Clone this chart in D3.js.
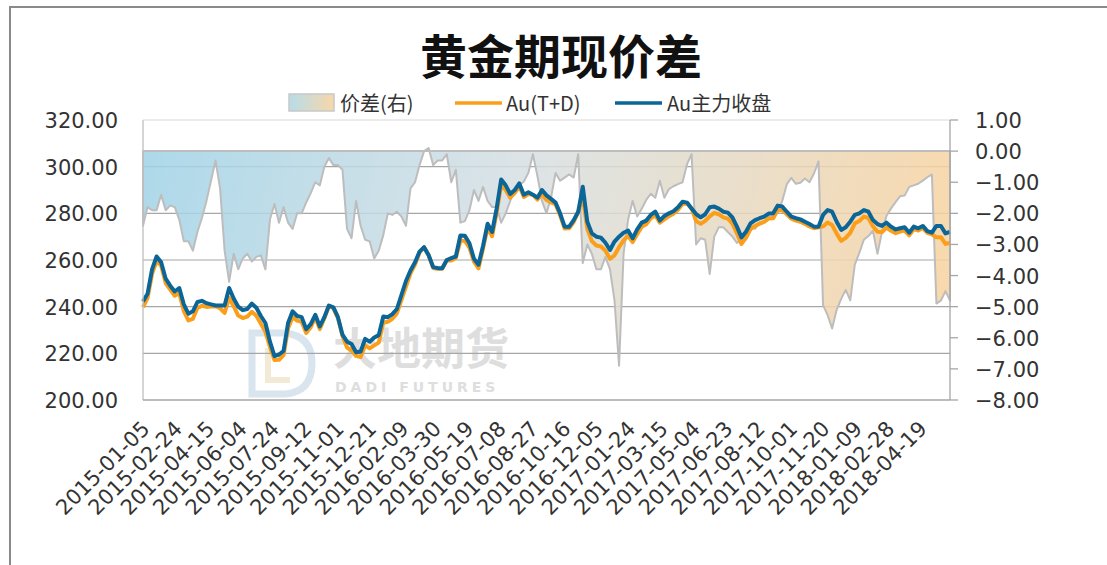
<!DOCTYPE html>
<html><head><meta charset="utf-8">
<script src="https://cdn.jsdelivr.net/npm/d3@7"></script>
<style>
html,body{margin:0;padding:0;background:#fff;}
svg{display:block;}
</style></head>
<body>
<svg id="c" width="1107" height="565"></svg>
<script>
// ---- data (weekly readings from 2015-01-05) ----
const startDay = "2015-01-05";
const mainClose = [
242.2,245.5,256,261.5,259,252,249,246.5,248,241,
237,238,242,242.5,241.5,241,240.5,240.5,240.5,248,
243.5,240,238.5,239,241.3,239.5,236,233,225,218.8,
219.5,221,233,238,236,235.5,230.3,232.5,236.5,231.5,
235.5,240.5,239.7,235.5,228,225,224,220.5,220.8,226.2,
225,226.8,227.8,235.8,235.5,236.8,239,245,251,255.5,
259,263.6,265.5,262,257,256.5,256.5,260,260.8,261.5,
270.5,270.4,267.2,260.5,258,266,275.5,272,282,294.5,
292,288.3,290,292.8,288,289,288,286.7,290,287.7,
286.2,284.6,280,274.3,274.3,277.1,280.7,291.4,276.4,271.4,
270,269.6,267.4,264.3,267.9,270,271.7,272.6,269.3,273.1,
276,276.9,279.3,280.7,276.9,278.9,280,280.9,282.6,285,
284.6,282.1,279.7,278.3,279.6,282.6,282.9,282,280.7,280.3,
278.3,274.3,269.7,272.1,275.7,277.1,277.9,278.6,279.9,280,
283.3,282.9,280.7,278.6,277.9,277.4,276.4,275.4,274.3,274.3,
279.3,281.4,280.7,276.4,272.9,274,276.4,279.3,280,281.4,
280.7,277.1,275.4,274.6,276,274.3,273.1,273.6,274,271.7,
274.3,273.6,274.6,272.4,271.7,274.6,274.6,271.4,272.1];
const tdClose = [
239.8,243.7,254.1,259.6,257.6,250.1,247.3,244.7,245.8,238.1,
234.1,234.8,239.4,240.4,239.9,240.1,240.2,239.3,237.3,243.8,
240.2,236.2,235.1,235.7,237.8,236.1,232.7,229.2,222.8,217.1,
217.2,219.2,230.7,235.5,234,233.5,228.7,231.2,235.5,230.4,
235,240.3,239.3,235.1,227.4,222.5,221.2,218.9,218.4,223.4,
222.1,223.4,224.6,233.1,233.5,234.8,237.1,242.9,248.6,254.3,
258,263.2,265.5,262.1,256.6,256.2,256.2,259.9,259.8,260.9,
268.2,268.2,265.3,259.3,256.4,264.9,273.9,270.2,280.2,292.2,
290,286.7,288.8,291.7,287,288.3,287.9,285.9,288.4,285.7,
284.7,283.9,279.1,273.5,273.6,276.3,280.6,287,273.4,268.1,
266.2,265.8,264,260.5,262,265.5,268.4,270.4,267.7,271,
274.2,275.3,277.9,279.2,276,277.4,278.8,279.8,281.5,284,
284.2,282,276.7,275.5,276.8,278.7,280.2,279.6,278.3,277.7,
275.6,271.4,266.9,269.5,273.3,274.6,275.6,276.3,277.8,277.9,
281.3,281.3,279.6,277.7,276.9,276.4,275.5,274.4,273.6,274,
274.4,276.1,275,271.3,268.2,269.5,271.6,275.7,276.7,278.6,
278,274.5,272.1,272,273.9,272.5,271.5,272.2,272.6,270.6,
273.2,272.6,273.7,271.6,271,269.7,269.8,266.9,267.3];
const spread = [
-2.4,-1.8,-1.9,-1.9,-1.4,-1.9,-1.75,-1.8,-2.2,-2.9,
-2.9,-3.2,-2.6,-2.15,-1.6,-0.95,-0.3,-1.2,-3.2,-4.2,
-3.3,-3.8,-3.45,-3.3,-3.55,-3.4,-3.35,-3.8,-2.2,-1.7,
-2.3,-1.8,-2.3,-2.5,-2.0,-2.0,-1.65,-1.35,-1.0,-1.1,
-0.5,-0.22,-0.45,-0.45,-0.6,-2.5,-2.8,-1.6,-2.4,-2.85,
-2.9,-3.45,-3.2,-2.7,-2.0,-2.05,-1.95,-2.1,-2.4,-1.2,
-1.0,-0.45,0.0,0.1,-0.45,-0.3,-0.3,-0.1,-1.0,-0.6,
-2.3,-2.25,-1.9,-1.25,-1.6,-1.15,-1.6,-1.8,-1.8,-2.3,
-2.0,-1.6,-1.2,-1.1,-0.98,-0.7,-0.1,-0.8,-1.6,-2.0,
-1.5,-0.7,-0.95,-0.85,-0.75,-0.85,-0.1,-3.6,-3.0,-3.3,
-3.8,-3.8,-3.4,-3.8,-4.8,-6.9,-3.3,-2.2,-1.6,-2.1,
-1.85,-1.57,-1.37,-1.5,-0.95,-1.5,-1.22,-1.13,-1.06,-1.0,
-0.42,-0.1,-3.0,-2.8,-2.85,-3.95,-2.75,-2.45,-2.45,-2.6,
-2.75,-2.95,-2.85,-2.64,-2.45,-2.5,-2.3,-2.28,-2.12,-2.07,
-1.98,-1.6,-1.07,-0.86,-1.05,-1.02,-0.88,-1.0,-0.72,-0.33,
-4.95,-5.27,-5.7,-5.1,-4.75,-4.46,-4.8,-3.65,-3.27,-2.85,
-2.73,-2.56,-3.3,-2.6,-2.08,-1.84,-1.64,-1.45,-1.43,-1.15,
-1.1,-1.05,-0.95,-0.84,-0.75,-4.9,-4.8,-4.5,-4.8];
const xTickLabels = ["2015-01-05","2015-02-24","2015-04-15","2015-06-04","2015-07-24","2015-09-12","2015-11-01","2015-12-21","2016-02-09","2016-03-30","2016-05-19","2016-07-08","2016-08-27","2016-10-16","2016-12-05","2017-01-24","2017-03-15","2017-05-04","2017-06-23","2017-08-12","2017-10-01","2017-11-20","2018-01-09","2018-02-28","2018-04-19"];
const leftTicks = [200,220,240,260,280,300,320];
const rightTicks = [1,0,-1,-2,-3,-4,-5,-6,-7,-8];
const title = "黄金期现价差";
const legendNames = ["价差(右)","Au(T+D)","Au主力收盘"];

// ---- layout ----
const P = {l:143, r:950, t:120, b:400};
const parse = d3.utcParse("%Y-%m-%d");
const d0 = parse(startDay);
const dates = mainClose.map((_, i) => d3.utcDay.offset(d0, 7 * i));
const x = d3.scaleUtc().domain([dates[0], dates[dates.length - 1]]).range([P.l, P.r]);
const yL = d3.scaleLinear().domain([200, 320]).range([P.b, P.t]);
const yR = d3.scaleLinear().domain([-8, 1]).range([P.b, P.t]);

const svg = d3.select("#c");
const NUM = "'DejaVu Sans', sans-serif";
const CJK = "'Noto Sans CJK SC', 'Noto Sans', sans-serif";
const TXT = "#333333";

const defs = svg.append("defs");
const g1 = defs.append("linearGradient").attr("id", "areaGrad")
  .attr("gradientUnits", "userSpaceOnUse")
  .attr("x1", P.l).attr("y1", yR(0)).attr("x2", P.r).attr("y2", yR(-6));
g1.append("stop").attr("offset", "0%").attr("stop-color", "#9fd2e6");
g1.append("stop").attr("offset", "45%").attr("stop-color", "#d6dfe3");
g1.append("stop").attr("offset", "100%").attr("stop-color", "#f9d29c");
const g2 = defs.append("linearGradient").attr("id", "legGrad");
g2.append("stop").attr("offset", "0%").attr("stop-color", "#b7dcea");
g2.append("stop").attr("offset", "100%").attr("stop-color", "#f8d7a8");

// outer frame
svg.append("path").attr("d", "M10,565 L10,7 L1107,7").attr("fill", "none")
  .attr("stroke", "#8a8a8a").attr("stroke-width", 2);

// title
svg.append("text").attr("x", 561).attr("y", 74).attr("text-anchor", "middle")
  .attr("font-family", CJK).attr("font-weight", "bold").attr("font-size", 47)
  .attr("fill", "#111").text(title);

// watermark
const wm = svg.append("g").attr("opacity", 0.8);
wm.append("path").attr("d", "M252,333 L285,333 Q312,336 312,363 Q312,392 285,394 L252,394 Z")
  .attr("fill", "none").attr("stroke", "#cfdeea").attr("stroke-width", 7);
wm.append("path").attr("d", "M268,348 L268,380 L290,380").attr("fill", "none")
  .attr("stroke", "#f1e6cc").attr("stroke-width", 6);
wm.append("text").attr("x", 333).attr("y", 365).attr("font-family", CJK).attr("font-weight", "bold")
  .attr("font-size", 44).attr("fill", "#d6d6d6").text("大地期货");
wm.append("text").attr("x", 335).attr("y", 392).attr("font-family", "'DejaVu Sans', sans-serif").attr("font-weight", "bold")
  .attr("font-size", 14).attr("letter-spacing", 4).attr("fill", "#d6d6d6").text("DADI FUTURES");

// gridlines (left axis)
svg.append("g").selectAll("line").data(leftTicks.filter(v => v > 200 && v < 320)).join("line")
  .attr("x1", P.l).attr("x2", P.r).attr("y1", d => yL(d)).attr("y2", d => yL(d))
  .attr("stroke", "#a6a6a6").attr("stroke-width", 1.2);
// top border
svg.append("line").attr("x1", P.l).attr("x2", P.r).attr("y1", P.t).attr("y2", P.t)
  .attr("stroke", "#d9d9d9").attr("stroke-width", 1.2);

// area (spread, right axis)
const area = d3.area().x((d, i) => x(dates[i])).y0(yR(0)).y1(d => yR(d));
svg.append("path").datum(spread).attr("d", area)
  .attr("fill", "url(#areaGrad)").attr("fill-opacity", 0.85)
  .attr("stroke", "#bdbdbd").attr("stroke-width", 2).attr("stroke-linejoin", "round");

// lines
const lineL = d3.line().x((d, i) => x(dates[i])).y(d => yL(d));
svg.append("path").datum(tdClose).attr("d", lineL).attr("fill", "none")
  .attr("stroke", "#fb9f1a").attr("stroke-width", 4).attr("stroke-linejoin", "round");
svg.append("path").datum(mainClose).attr("d", lineL).attr("fill", "none")
  .attr("stroke", "#0b6596").attr("stroke-width", 4).attr("stroke-linejoin", "round");

// axes lines
svg.append("line").attr("x1", P.l).attr("x2", P.l).attr("y1", P.t).attr("y2", P.b).attr("stroke", "#bfbfbf").attr("stroke-width", 1.3);
svg.append("line").attr("x1", P.r).attr("x2", P.r).attr("y1", P.t).attr("y2", P.b).attr("stroke", "#a6a6a6").attr("stroke-width", 1.3);
svg.append("line").attr("x1", P.l).attr("x2", P.r).attr("y1", P.b).attr("y2", P.b).attr("stroke", "#a6a6a6").attr("stroke-width", 1.3);

// left axis labels
svg.append("g").selectAll("text").data(leftTicks).join("text")
  .attr("x", 118).attr("y", d => yL(d) + 8).attr("text-anchor", "end")
  .attr("font-family", NUM).attr("font-size", 21).attr("fill", TXT)
  .text(d => d3.format(".2f")(d));

// right axis ticks + labels
svg.append("g").selectAll("line").data(rightTicks).join("line")
  .attr("x1", P.r).attr("x2", P.r + 8).attr("y1", d => yR(d)).attr("y2", d => yR(d))
  .attr("stroke", "#a6a6a6").attr("stroke-width", 1.3);
svg.append("g").selectAll("text").data(rightTicks).join("text")
  .attr("x", 975).attr("y", d => yR(d) + 8).attr("text-anchor", "start")
  .attr("font-family", NUM).attr("font-size", 21).attr("fill", TXT)
  .text(d => d3.format(".2f")(d));

// x axis labels
svg.append("g").selectAll("text").data(xTickLabels).join("text")
  .attr("transform", d => `translate(${x(parse(d)) + 8},430) rotate(-45)`)
  .attr("text-anchor", "end")
  .attr("font-family", NUM).attr("font-size", 21).attr("fill", TXT)
  .text(d => d);

// legend
const lg = svg.append("g");
lg.append("rect").attr("x", 289).attr("y", 94).attr("width", 45).attr("height", 17)
  .attr("fill", "url(#legGrad)").attr("stroke", "#c8c8c8").attr("stroke-width", 1.5);
lg.append("text").attr("x", 340).attr("y", 111).attr("font-family", CJK).attr("font-size", 20).attr("fill", TXT).text(legendNames[0]);
lg.append("line").attr("x1", 455).attr("x2", 502).attr("y1", 103).attr("y2", 103).attr("stroke", "#fb9f1a").attr("stroke-width", 3.5);
lg.append("text").attr("x", 506).attr("y", 111).attr("font-family", CJK).attr("font-size", 20).attr("fill", TXT).text(legendNames[1]);
lg.append("line").attr("x1", 615).attr("x2", 662).attr("y1", 103).attr("y2", 103).attr("stroke", "#0b6596").attr("stroke-width", 3.5);
lg.append("text").attr("x", 667).attr("y", 111).attr("font-family", CJK).attr("font-size", 20).attr("fill", TXT).text(legendNames[2]);
</script>
</body></html>
